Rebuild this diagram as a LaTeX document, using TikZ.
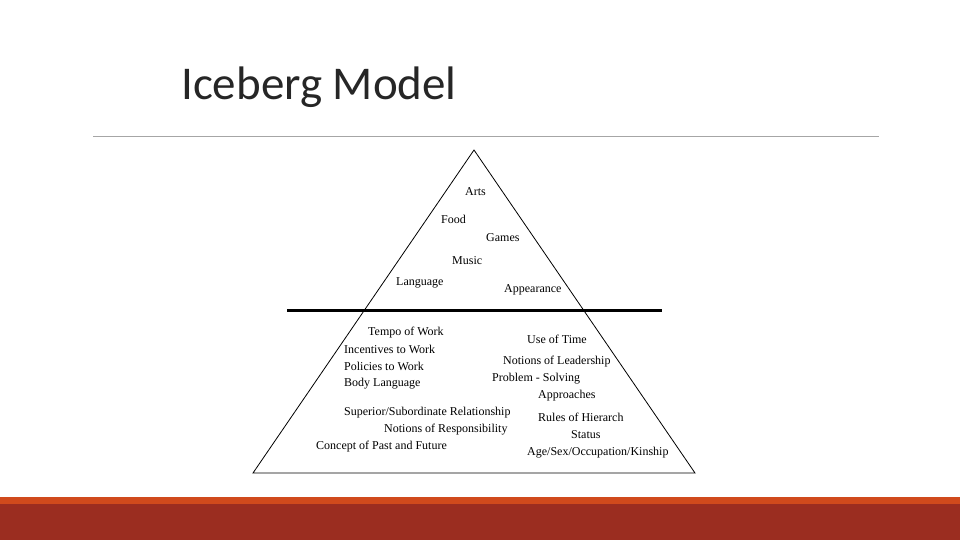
\documentclass[tikz,border=0pt]{standalone}
\usepackage{fontspec}
\setmainfont{Liberation Serif}
\newfontfamily\titlefont{Carlito}
\begin{document}
\begin{tikzpicture}[x=1pt,y=-1pt,
  lbl/.style={anchor=west,inner sep=0pt,font=\fontsize{12}{12}\selectfont}]
\useasboundingbox (0,0) rectangle (960,540);
\fill[white] (0,0) rectangle (960,540);
\node[anchor=base west,inner sep=0pt,font=\titlefont\fontsize{47}{50}\selectfont,text=black!85] (title) at (181,100) {Iceberg Model};
\draw[gray!70,line width=0.8pt] (93,136) -- (879,136);
\coordinate (apex) at (474,150);
\coordinate (bl) at (253,473);
\coordinate (br) at (695,473);
\draw[line width=0.8pt] (apex) -- (bl) -- (br) -- cycle;
\coordinate (wl) at (287,310);
\coordinate (wr) at (662,310);
\draw[line width=3pt] (wl) -- (wr);
\fill[fill={rgb,255:red,208;green,74;blue,28}] (0,497) rectangle (960,504);
\fill[fill={rgb,255:red,155;green,45;blue,32}] (0,504) rectangle (960,540);
\begin{scope}[yshift=-1.5pt]
\node[lbl] (t1) at (465,190) {Arts};
\node[lbl] (t2) at (441,218) {Food};
\node[lbl] (t3) at (486,236) {Games};
\node[lbl] (t4) at (452,259) {Music};
\node[lbl] (t5) at (396,281) {Language};
\node[lbl] (t6) at (504,288) {Appearance};
\node[lbl] (t7) at (368,331) {Tempo of Work};
\node[lbl] (t8) at (344,348) {Incentives to Work};
\node[lbl] (t9) at (344,365) {Policies to Work};
\node[lbl] (t10) at (344,382) {Body Language};
\node[lbl] (t11) at (527,338) {Use of Time};
\node[lbl] (t12) at (503,360) {Notions of Leadership};
\node[lbl] (t13) at (492,377) {Problem - Solving};
\node[lbl] (t14) at (538,394) {Approaches};
\node[lbl] (t15) at (344,411) {Superior/Subordinate Relationship};
\node[lbl] (t16) at (384,428) {Notions of Responsibility};
\node[lbl] (t17) at (316,445) {Concept of Past and Future};
\node[lbl] (t18) at (538,416) {Rules of Hierarch};
\node[lbl] (t19) at (571,433) {Status};
\node[lbl] (t20) at (527,451) {Age/Sex/Occupation/Kinship};
\end{scope}
\end{tikzpicture}
\end{document}
